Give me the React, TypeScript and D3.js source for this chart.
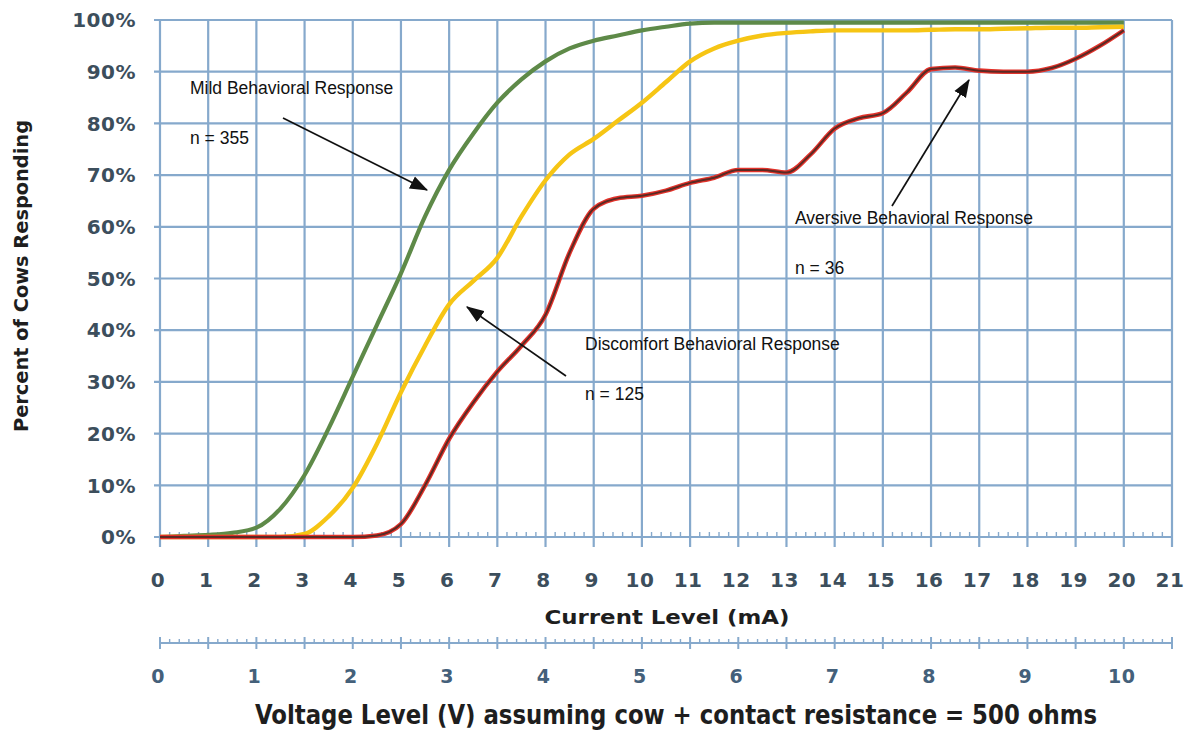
import React from "react";
import * as d3 from "d3";

const currentMA = [0, 0.5, 1, 1.5, 2, 2.5, 3, 3.5, 4, 4.5, 5, 5.5, 6, 6.5, 7, 7.5, 8, 8.5, 9, 9.5, 10, 10.5, 11, 11.5, 12, 12.5, 13, 13.5, 14, 14.5, 15, 15.5, 16, 16.5, 17, 17.5, 18, 18.5, 19, 19.5, 20];
const mild = [0, 0.2, 0.4, 0.8, 1.8, 5.5, 12, 21, 31, 41, 51, 62, 71, 78, 84, 88.5, 92, 94.5, 96, 97, 98, 98.7, 99.3, 99.5, 99.5, 99.5, 99.5, 99.5, 99.5, 99.5, 99.5, 99.5, 99.5, 99.5, 99.5, 99.5, 99.5, 99.5, 99.5, 99.5, 99.5];
const discomfort = [0, 0, 0, 0, 0, 0, 0.6, 4, 9.5, 18, 28, 37, 45, 49.5, 54, 62, 69, 74, 77, 80.5, 84, 88, 92, 94.5, 96, 97, 97.5, 97.8, 98, 98, 98, 98, 98.1, 98.2, 98.2, 98.3, 98.4, 98.5, 98.5, 98.6, 98.7];
const aversive = [0, 0, 0, 0, 0, 0, 0, 0, 0, 0.3, 2.5, 10, 19, 26, 32, 37, 43, 55, 63.5, 65.5, 66, 67, 68.5, 69.5, 71, 71, 70.5, 74, 79, 81, 82, 86, 90.5, 90.8, 90.2, 90, 90, 90.7, 92.5, 95, 98];

const xTicks = d3.range(0, 22);
const vTicks = d3.range(0, 11);
const yTicks = d3.range(0, 101, 10);

const annotations = [
  { lines: ["Mild Behavioral Response", "n = 355"], x: 190, y: 94, from: [283, 118], to: [427, 190] },
  { lines: ["Discomfort Behavioral Response", "n = 125"], x: 585, y: 350, from: [566, 376], to: [467, 307] },
  { lines: ["Aversive Behavioral Response", "n = 36"], x: 795, y: 224, from: [892, 206], to: [969, 80] },
];

export default function App() {
  const x = d3.scaleLinear().domain([0, 21]).range([160, 1172]);
  const xv = d3.scaleLinear().domain([0, 10.5]).range([160, 1172]);
  const y = d3.scaleLinear().domain([0, 100]).range([537, 20]);
  const line = d3
    .line<number>()
    .x((_, i) => x(currentMA[i]))
    .y((d) => y(d))
    .curve(d3.curveMonotoneX);

  const grid = "#86a9cc";
  const tickCol = "#3c4e5c";
  const minorX = d3.range(0, 21.01, 0.2);
  const minorV = d3.range(0, 10.501, 0.1);
  const vAxisY = 643;

  return (
    <svg width={1197} height={730} style={{ position: "absolute", left: 0, top: 0, background: "#fff" }}>
      <defs>
        <marker id="ah2" viewBox="0 0 16 12" refX="15" refY="6" markerWidth="18" markerHeight="14" markerUnits="userSpaceOnUse" orient="auto">
          <path d="M0,0 L16,6 L0,12 z" fill="#111" />
        </marker>
      </defs>
      {/* grid */}
      {yTicks.map((t) => (
        <line key={"h" + t} x1={154} x2={x(21)} y1={y(t)} y2={y(t)} stroke={grid} strokeWidth={2.2} />
      ))}
      {xTicks.map((t) => (
        <line key={"v" + t} x1={x(t)} x2={x(t)} y1={y(100)} y2={y(0) + 10} stroke={grid} strokeWidth={2.2} />
      ))}
      {minorX.map((t, i) => (
        <line key={"mx" + i} x1={x(t)} x2={x(t)} y1={y(0)} y2={y(0) - 5} stroke={grid} strokeWidth={1.4} />
      ))}
      {/* y labels */}
      {yTicks.map((t) => (
        <text key={"yl" + t} x={136} y={y(t)} dy="0.36em" textAnchor="end" fontFamily="DejaVu Sans" fontSize={20} fontWeight="bold" letterSpacing={0.5} fill={tickCol}>
          {t + "%"}
        </text>
      ))}
      {/* x labels */}
      {xTicks.map((t) => (
        <text key={"xl" + t} x={x(t) - 2} y={580} dy="0.36em" textAnchor="middle" fontFamily="DejaVu Sans" fontSize={20} fontWeight="bold" letterSpacing={0.5} fill={tickCol}>
          {t}
        </text>
      ))}
      <text x={667} y={624} textAnchor="middle" fontFamily="DejaVu Sans Condensed, DejaVu Sans" fontWeight="bold" fontSize={20} textLength={245} lengthAdjust="spacingAndGlyphs" fill="#1e1e1e">
        Current Level (mA)
      </text>
      {/* voltage axis */}
      <line x1={xv(0)} x2={xv(10.5)} y1={vAxisY} y2={vAxisY} stroke={grid} strokeWidth={2} />
      {minorV.map((t, i) => {
        const major = i % 5 === 0;
        return (
          <line key={"mv" + i} x1={xv(t)} x2={xv(t)} y1={major ? vAxisY - 6 : vAxisY - 4} y2={major ? vAxisY + 6 : vAxisY} stroke={grid} strokeWidth={major ? 2 : 1.4} />
        );
      })}
      {vTicks.map((t) => (
        <text key={"vl" + t} x={xv(t) - 2} y={676} dy="0.36em" textAnchor="middle" fontFamily="DejaVu Sans" fontSize={19} fontWeight="bold" letterSpacing={0.5} fill="#44607a">
          {t}
        </text>
      ))}
      <text x={676} y={724} textAnchor="middle" fontFamily="DejaVu Sans Condensed, DejaVu Sans" fontWeight="bold" fontSize={26} textLength={842} lengthAdjust="spacingAndGlyphs" fill="#1e1e1e">
        Voltage Level (V) assuming cow + contact resistance = 500 ohms
      </text>
      <text transform="translate(28,276) rotate(-90)" textAnchor="middle" fontFamily="DejaVu Sans Condensed, DejaVu Sans" fontWeight="bold" fontSize={20} textLength={312} lengthAdjust="spacingAndGlyphs" fill="#1e1e1e">
        Percent of Cows Responding
      </text>
      {/* curves */}
      <path d={line(mild) || ""} fill="none" stroke="#5e8a48" strokeWidth={4.2} strokeLinejoin="round" />
      <path d={line(discomfort) || ""} fill="none" stroke="#f6c514" strokeWidth={4.4} strokeLinejoin="round" />
      <path d={line(aversive) || ""} fill="none" stroke="#e2322a" strokeWidth={4.6} strokeLinejoin="round" />
      <path d={line(aversive) || ""} fill="none" stroke="#5a2a24" strokeWidth={2} strokeLinejoin="round" />
      {/* annotations */}
      {annotations.map((a, i) => (
        <g key={"an" + i}>
          {a.lines.map((l, j) => (
            <text key={j} x={a.x} y={a.y + j * 50} fontFamily="Liberation Sans, Arial" fontSize={17.5} fill="#111">
              {l}
            </text>
          ))}
          <line x1={a.from[0]} y1={a.from[1]} x2={a.to[0]} y2={a.to[1]} stroke="#111" strokeWidth={1.7} markerEnd="url(#ah2)" />
        </g>
      ))}
    </svg>
  );
}
